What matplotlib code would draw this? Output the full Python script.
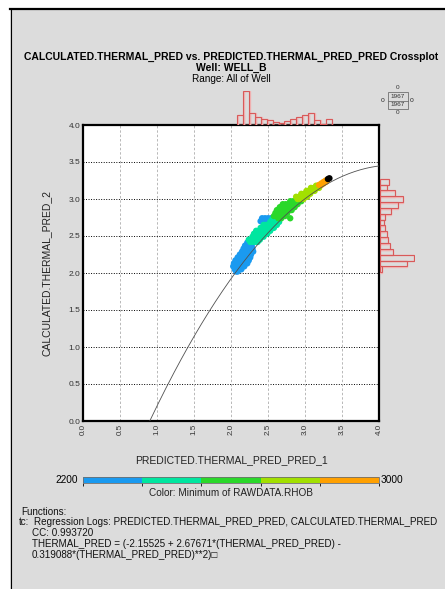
import matplotlib
matplotlib.use('Agg')
import matplotlib.pyplot as plt
import numpy as np
from matplotlib.colors import ListedColormap, BoundaryNorm
from matplotlib.patches import Rectangle
from matplotlib.lines import Line2D
from matplotlib.cm import ScalarMappable

plt.rcParams['font.family'] = ['Liberation Sans', 'DejaVu Sans']

# ---------------- data ----------------
blue_x = [2.07, 2.09,
          2.05, 2.08, 2.11, 2.14,
          2.03, 2.06, 2.09, 2.12, 2.15, 2.18,
          2.04, 2.07, 2.10, 2.13, 2.16, 2.19, 2.22,
          2.06, 2.09, 2.12, 2.15, 2.18, 2.21, 2.24,
          2.09, 2.12, 2.15, 2.18, 2.21, 2.24, 2.26,
          2.12, 2.15, 2.18, 2.21, 2.24, 2.27,
          2.15, 2.18, 2.21, 2.24, 2.27, 2.30,
          2.17, 2.20, 2.23, 2.26, 2.29,
          2.19, 2.22, 2.25, 2.28,
          2.22, 2.25,
          2.40, 2.44, 2.48, 2.52,
          2.42, 2.46, 2.50, 2.54]
blue_y = [2.02, 2.02,
          2.05, 2.05, 2.05, 2.05,
          2.09, 2.09, 2.09, 2.09, 2.09, 2.09,
          2.13, 2.13, 2.13, 2.13, 2.13, 2.13, 2.13,
          2.17, 2.17, 2.17, 2.17, 2.17, 2.17, 2.17,
          2.21, 2.21, 2.21, 2.21, 2.21, 2.21, 2.21,
          2.25, 2.25, 2.25, 2.25, 2.25, 2.25,
          2.29, 2.29, 2.29, 2.29, 2.29, 2.29,
          2.33, 2.33, 2.33, 2.33, 2.33,
          2.37, 2.37, 2.37, 2.37,
          2.41, 2.41,
          2.70, 2.70, 2.70, 2.70,
          2.74, 2.74, 2.74, 2.74]
cyan_x = [2.26, 2.29, 2.33, 2.36,
          2.24, 2.30, 2.33, 2.36, 2.39,
          2.29, 2.32, 2.35, 2.38, 2.41, 2.44,
          2.31, 2.34, 2.37, 2.40, 2.43, 2.46, 2.49,
          2.34, 2.38, 2.41, 2.44, 2.47, 2.50, 2.53,
          2.40, 2.43, 2.46, 2.49, 2.52, 2.55, 2.58,
          2.44, 2.47, 2.50, 2.53, 2.56, 2.59, 2.62,
          2.53, 2.56, 2.59, 2.62, 2.65,
          2.56, 2.59, 2.62, 2.66]
cyan_y = [2.42, 2.42, 2.42, 2.42,
          2.45, 2.45, 2.45, 2.45, 2.45,
          2.49, 2.49, 2.49, 2.49, 2.49, 2.49,
          2.53, 2.53, 2.53, 2.53, 2.53, 2.53, 2.53,
          2.57, 2.57, 2.57, 2.57, 2.57, 2.57, 2.57,
          2.61, 2.61, 2.61, 2.61, 2.61, 2.61, 2.61,
          2.65, 2.65, 2.65, 2.65, 2.65, 2.65, 2.65,
          2.69, 2.69, 2.69, 2.69, 2.69,
          2.73, 2.73, 2.73, 2.73]
green_x = [2.80, 2.64, 2.68,
           2.58, 2.62, 2.66, 2.70, 2.73,
           2.60, 2.64, 2.68, 2.72, 2.76,
           2.62, 2.66, 2.70, 2.74, 2.78, 2.82,
           2.66, 2.70, 2.74, 2.78, 2.82, 2.86,
           2.70, 2.74, 2.78, 2.82, 2.86, 2.90,
           2.80, 2.84, 2.88, 2.92, 2.95]
green_y = [2.74, 2.74, 2.74,
           2.77, 2.77, 2.77, 2.77, 2.77,
           2.81, 2.81, 2.81, 2.81, 2.81,
           2.85, 2.85, 2.85, 2.85, 2.85, 2.85,
           2.89, 2.89, 2.89, 2.89, 2.89, 2.89,
           2.93, 2.93, 2.93, 2.93, 2.93, 2.93,
           2.97, 2.97, 2.97, 2.97, 2.97]
ygreen_x = [2.90, 2.94, 2.98,
            2.88, 2.92, 2.96, 3.00, 3.03,
            2.95, 2.99, 3.03, 3.07,
            3.02, 3.06, 3.10, 3.13,
            3.08, 3.12, 3.16, 3.19,
            3.15, 3.18]
ygreen_y = [3.00, 3.00, 3.00,
            3.03, 3.03, 3.03, 3.03, 3.03,
            3.07, 3.07, 3.07, 3.07,
            3.11, 3.11, 3.11, 3.11,
            3.15, 3.15, 3.15, 3.15,
            3.18, 3.18]
orange_x = [3.19, 3.22, 3.22, 3.25, 3.25, 3.28, 3.28, 3.30]
orange_y = [3.19, 3.19, 3.21, 3.21, 3.23, 3.23, 3.25, 3.25]
black_x = [3.31, 3.33]
black_y = [3.27, 3.28]

group_rhob = [2280, 2440, 2600, 2760, 2920, 3100]   # representative RHOB per group

rhob_bounds = [2200, 2360, 2520, 2680, 2840, 3000]
rhob_colors = ['#1a9af0', '#00e6a0', '#2ad82a', '#a2e000', '#ffa000']

xhist_start, xhist_width = 2.085, 0.0797
xhist_counts = [149, 506, 179, 115, 85, 70, 45, 30, 60, 94, 124, 149, 179, 74, 22, 89]
yhist_start, yhist_width = 2.01, 0.079
yhist_counts = [20, 267, 340, 132, 102, 82, 69, 45, 43, 49, 109, 175, 225, 151, 66, 92]

reg_coef = [-2.15525, 2.67671, -0.319088]   # c0 + c1*x + c2*x^2

ticks = [0.0, 0.5, 1.0, 1.5, 2.0, 2.5, 3.0, 3.5, 4.0]
tick_labels = ['0.0', '0.5', '1.0', '1.5', '2.0', '2.5', '3.0', '3.5', '4.0']

title1 = 'CALCULATED.THERMAL_PRED vs. PREDICTED.THERMAL_PRED_PRED Crossplot'
title2 = 'Well: WELL_B'
title3 = 'Range: All of Well'
xlabel = 'PREDICTED.THERMAL_PRED_PRED_1'
ylabel = 'CALCULATED.THERMAL_PRED_2'
color_label = 'Color: Minimum of RAWDATA.RHOB'
func_head = 'Functions:'
func_tag = 'tc:'
func_lines = ['Regression Logs: PREDICTED.THERMAL_PRED_PRED, CALCULATED.THERMAL_PRED',
              'CC: 0.993720',
              'THERMAL_PRED = (-2.15525 + 2.67671*(THERMAL_PRED_PRED) -',
              '0.319088*(THERMAL_PRED_PRED)**2)\u25a1']
npoints = '1967'

# ---------------- figure ----------------
W, H = 445, 589
fig = plt.figure(figsize=(W / 100, H / 100), dpi=100)
fig.patch.set_facecolor('white')


def fx(px):
    return px / W


def fy(py):
    return 1 - py / H


fig.patches.append(Rectangle((fx(10), 0), 1 - fx(10), fy(9), transform=fig.transFigure,
                             facecolor='#dcdcdc', edgecolor='none', zorder=-10))
fig.lines.append(Line2D([fx(10), 1], [fy(9), fy(9)], transform=fig.transFigure, color='black', lw=1.6))
fig.lines.append(Line2D([fx(10.5), fx(10.5)], [0, fy(9)], transform=fig.transFigure, color='black', lw=0.8))

cmap = ListedColormap(rhob_colors)
cmap.set_over('black')
norm = BoundaryNorm(rhob_bounds, cmap.N)

# main axes
ax = fig.add_axes([fx(83), fy(421), fx(296), 296 / H])
ax.set_facecolor('white')
ax.set_xlim(0, 4)
ax.set_ylim(0, 4)
for t in ticks[1:-1]:
    ax.axvline(t, color='#b8b8b8', lw=0.7, dashes=(2.5, 2), zorder=1)
    ax.axhline(t, color='black', lw=0.7, dashes=(1, 1.6), zorder=1)

groups = [(blue_x, blue_y), (cyan_x, cyan_y), (green_x, green_y), (ygreen_x, ygreen_y),
          (orange_x, orange_y), (black_x, black_y)]
for (gx, gy), rv in zip(groups, group_rhob):
    ax.scatter(gx, gy, c=[rv] * len(gx), cmap=cmap, norm=norm, s=21, edgecolors='none', zorder=3)

c0, c1, c2 = reg_coef
roots = np.roots([c2, c1, c0])
x0 = float(np.min(roots[(roots > 0) & (roots < 4)].real))
xc = np.linspace(x0, 4, 200)
ax.plot(xc, c0 + c1 * xc + c2 * xc ** 2, color='#505050', lw=0.6, zorder=4)

ax.set_xticks(ticks)
ax.set_yticks(ticks)
ax.set_xticklabels(tick_labels, rotation=90, fontsize=5.8, color='#333333')
ax.set_yticklabels(tick_labels, fontsize=6, color='#333333')
ax.tick_params(length=0, pad=2)
for s in ax.spines.values():
    s.set_linewidth(1.6)
    s.set_color('black')

# top histogram
axt = fig.add_axes([fx(83), fy(125), fx(296), 34 / H])
axt.set_xlim(0, 4)
axt.set_ylim(0, max(xhist_counts))
xl = [xhist_start + i * xhist_width for i in range(len(xhist_counts))]
axt.bar([v + 0.01 for v in xl], xhist_counts, width=xhist_width, align='edge', fill=False,
        edgecolor='#f2b4b4', lw=1.0)
axt.bar(xl, xhist_counts, width=xhist_width, align='edge', fill=False, edgecolor='#d85a5a', lw=0.8)
axt.axis('off')

# right histogram
axr = fig.add_axes([fx(380), fy(421), fx(35), 296 / H])
axr.set_ylim(0, 4)
axr.set_xlim(0, max(yhist_counts) * 35 / 34.3)
yl = [yhist_start + i * yhist_width for i in range(len(yhist_counts))]
axr.barh([v - 0.01 for v in yl], yhist_counts, height=yhist_width, align='edge', fill=False,
         edgecolor='#f2b4b4', lw=1.0)
axr.barh(yl, yhist_counts, height=yhist_width, align='edge', fill=False, edgecolor='#d85a5a', lw=0.8)
axr.axis('off')

# titles
fig.text(fx(231), fy(60.0), title1, ha='center', va='baseline', fontsize=7.45, fontweight='bold')
fig.text(fx(231), fy(70.5), title2, ha='center', va='baseline', fontsize=7.45, fontweight='bold')
fig.text(fx(231), fy(82.5), title3, ha='center', va='baseline', fontsize=7.2)

# axis labels
fig.text(fx(231.5), fy(460), xlabel, ha='center', va='center', fontsize=7.45, color='#222222')
fig.text(fx(47), fy(273), ylabel, ha='center', va='center', rotation=90, fontsize=7.45, color='#222222')

# colorbar
cax = fig.add_axes([fx(83), fy(482.7), fx(296), 6 / H])
cb = fig.colorbar(ScalarMappable(norm=norm, cmap=cmap), cax=cax, orientation='horizontal')
cb.set_ticks([])
cb.outline.set_edgecolor('#707070')
cb.outline.set_linewidth(0.6)
fig.text(fx(78), fy(480), str(rhob_bounds[0]), ha='right', va='center', fontsize=7.3)
fig.text(fx(381), fy(480), str(rhob_bounds[-1]), ha='left', va='center', fontsize=7.3)
fig.text(fx(231), fy(493), color_label, ha='center', va='center', fontsize=7.2, color='#222222')

# legend box
fig.patches.append(Rectangle((fx(388), fy(108.7)), fx(19.7), 16.4 / H, transform=fig.transFigure,
                             facecolor='none', edgecolor='#707070', lw=0.6))
fig.lines.append(Line2D([fx(388), fx(407.7)], [fy(100.5), fy(100.5)], transform=fig.transFigure,
                        color='#707070', lw=0.6))
fig.text(fx(398), fy(96.5), npoints, ha='center', va='center', fontsize=4.6, color='#333333')
fig.text(fx(398), fy(104.6), npoints, ha='center', va='center', fontsize=4.6, color='#333333')
fig.text(fx(398), fy(87.5), '0', ha='center', va='center', fontsize=4.6, color='#333333')
fig.text(fx(398), fy(112.5), '0', ha='center', va='center', fontsize=4.6, color='#333333')
fig.text(fx(382.5), fy(100.5), 'o', ha='center', va='center', fontsize=5, color='#333333')
fig.text(fx(412), fy(100.5), 'o', ha='center', va='center', fontsize=5, color='#333333')

# functions text
fs = 7.1
fig.text(fx(21.5), fy(511.7), func_head, ha='left', va='center', fontsize=fs, color='#111111')
fig.text(fx(19), fy(522.3), func_tag, ha='left', va='center', fontsize=fs, color='#111111')
fig.text(fx(33.5), fy(522.3), func_lines[0], ha='left', va='center', fontsize=fs, color='#111111')
fig.text(fx(32), fy(533), func_lines[1], ha='left', va='center', fontsize=fs, color='#111111')
fig.text(fx(32), fy(544), func_lines[2], ha='left', va='center', fontsize=fs, color='#111111')
fig.text(fx(32), fy(555), func_lines[3], ha='left', va='center', fontsize=fs, color='#111111')

fig.savefig('out.png', dpi=100, facecolor=fig.get_facecolor())
